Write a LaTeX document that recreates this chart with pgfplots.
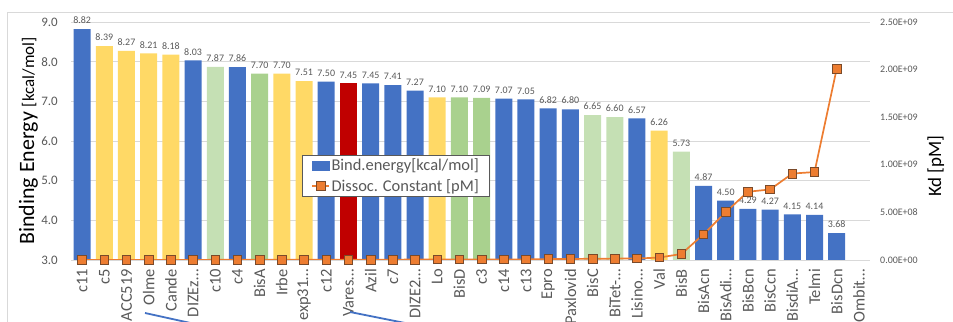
\documentclass[border=0pt]{standalone}
\usepackage{fontspec}
\setmainfont{Carlito}
\usepackage{pgfplots}
\pgfplotsset{compat=1.18}

\definecolor{barblue}{HTML}{4472C4}
\definecolor{baryellow}{HTML}{FFD966}
\definecolor{barlgreen}{HTML}{C5E0B4}
\definecolor{barmgreen}{HTML}{A9D18E}
\definecolor{barred}{HTML}{C00000}
\definecolor{kdorange}{HTML}{ED7D31}
\definecolor{kdedge}{HTML}{7A4A2A}
\definecolor{txtgray}{HTML}{595959}
\definecolor{gridgray}{HTML}{D9D9D9}

\pgfplotsset{
  chartbase/.style={
    scale only axis, width=799bp, height=238bp,
    at={(71bp,62bp)}, anchor=south west,
    xmin=-0.5, xmax=35.5,
    major tick length=0pt,
    axis line style={draw=none},
  },
  energybar/.style={
    ybar, bar width=17bp, bar shift=0pt, draw=none, fill=#1,
    nodes near coords={\pgfmathprintnumber[assume math mode=true,fixed,fixed zerofill,precision=2]{\pgfplotspointmeta}},
    every node near coord/.append style={font=\fontsize{10}{10}\selectfont,
      text=txtgray, anchor=south, inner sep=0pt, yshift=5bp},
  },
}

\begin{document}
\begin{tikzpicture}
% outer chart frame
\draw[gridgray, line width=0.8bp] (7bp,-30bp) rectangle (990bp,310bp);

% binding energies, coloured by compound group
\begin{axis}[chartbase,
  ymin=3, ymax=9,
  ytick={3,4,5,6,7,8,9},
  yticklabels={3.0,4.0,5.0,6.0,7.0,8.0,9.0},
  ymajorgrids, grid style={gridgray, line width=0.8bp},
  yticklabel style={font=\fontsize{13}{13}\selectfont, text=txtgray,
    anchor=east, inner sep=0pt, xshift=-13bp},
  xtick={0,...,35},
  xticklabels={c11,c5,ACC519,Olme,Cande,DIZEz…,c10,c4,BisA,Irbe,exp31…,c12,
    Vares…,Azil,c7,DIZE2…,Lo,BisD,c3,c14,c13,Epro,Paxlovid,BisC,BiTet-…,
    Lisino…,Val,BisB,BisAcn,BisAdi…,BisBcn,BisCcn,BisdiA…,Telmi,BisDcn,Ombit…},
  xticklabel style={yshift=-9bp, rotate=90, anchor=east,
    font=\fontsize{16.5}{16.5}\selectfont, text=txtgray, inner sep=0pt},
]
\addplot[energybar=barblue] coordinates {
  (0,8.82) (5,8.03) (7,7.86) (11,7.50) (13,7.45) (14,7.41) (15,7.27)
  (19,7.07) (20,7.05) (21,6.82) (22,6.80) (25,6.57) (28,4.87) (29,4.50)
  (30,4.29) (31,4.27) (32,4.15) (33,4.14) (34,3.68)};
\addplot[energybar=baryellow] coordinates {
  (1,8.39) (2,8.27) (3,8.21) (4,8.18) (9,7.70) (10,7.51) (16,7.10) (26,6.26)};
\addplot[energybar=barlgreen] coordinates {
  (6,7.87) (23,6.65) (24,6.60) (27,5.73)};
\addplot[energybar=barmgreen] coordinates {
  (8,7.70) (17,7.10) (18,7.09)};
\addplot[energybar=barred] coordinates {
  (12,7.45)};
\end{axis}

% dissociation constants on the secondary axis
\begin{axis}[chartbase,
  ymin=0, ymax=2.5e9,
  axis y line*=right, axis x line=none,
  ytick={0,5e8,1e9,1.5e9,2e9,2.5e9},
  yticklabels={0.00E+00,5.00E+08,1.00E+09,1.50E+09,2.00E+09,2.50E+09},
  scaled y ticks=false,
  yticklabel style={font=\fontsize{10}{10}\selectfont, text=txtgray,
    anchor=west, inner sep=0pt, xshift=10bp},
  legend style={at={(rel axis cs:0.289,0.441)}, anchor=north west,
    font=\fontsize{16.5}{18}\selectfont, text=txtgray,
    draw=black!65, line width=0.8bp, fill=white,
    inner xsep=9bp, inner ysep=2bp, row sep=4bp,
    nodes={inner sep=1.5bp}},
  legend cell align=left,
]
\addlegendimage{legend image code/.code={
  \fill[barblue] (0bp,-4.5bp) rectangle (17bp,4.5bp);}}
\addlegendentry{Bind.energy[kcal/mol]}
\addplot[kdorange, line width=1.7bp, mark=square*, mark size=4.3bp,
  mark options={fill=kdorange, draw=kdedge, line width=0.7bp}] coordinates {
  (0,3.43e5) (1,7.09e5) (2,8.67e5) (3,9.59e5) (4,1.01e6) (5,1.30e6)
  (6,1.70e6) (7,1.73e6) (8,2.27e6) (9,2.27e6) (10,3.13e6) (11,3.18e6)
  (12,3.46e6) (13,3.46e6) (14,3.70e6) (15,4.69e6) (16,6.25e6) (17,6.25e6)
  (18,6.36e6) (19,6.58e6) (20,6.80e6) (21,1.00e7) (22,1.04e7) (23,1.33e7)
  (24,1.45e7) (25,1.53e7) (26,2.58e7) (27,6.31e7) (28,2.70e8) (29,5.03e8)
  (30,7.17e8) (31,7.41e8) (32,9.08e8) (33,9.24e8) (34,2.01e9)};
\addlegendentry{Dissoc. Constant [pM]}
\end{axis}

% axis titles
\node[rotate=90, anchor=base, inner sep=0pt] at (34bp,181bp)
  {\fontsize{22}{22}\selectfont Binding Energy \fontsize{17}{17}\selectfont[kcal/mol]};
\node[rotate=90, anchor=base, inner sep=0pt] at (941bp,156bp)
  {\fontsize{19}{19}\selectfont Kd [pM]};

% connector strokes below the category labels
\draw[barblue, line width=1.8bp] (145bp,9bp) -- (195bp,-2bp);
\draw[barblue, line width=1.8bp] (350bp,10bp) -- (410bp,-2bp);

\pgfresetboundingbox
\useasboundingbox (0bp,0bp) rectangle (953bp,322bp);
\end{tikzpicture}
\end{document}
